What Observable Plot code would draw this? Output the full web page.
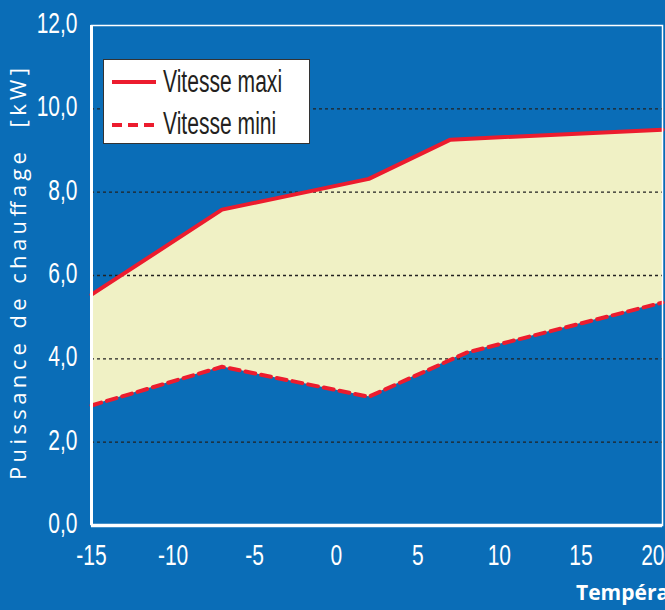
<!DOCTYPE html>
<html><head><meta charset="utf-8">
<script src="https://cdn.jsdelivr.net/npm/d3@7"></script>
<script src="https://cdn.jsdelivr.net/npm/@observablehq/plot@0.6"></script>
<style>
html,body{margin:0;padding:0;background:#0a6db7;overflow:hidden;width:665px;height:610px}
#chart svg{display:block}
</style></head><body><div id="chart"></div>
<script>
const maxTemps = [-15, -7, 2, 7, 20];
const maxPower = [5.54, 7.58, 8.32, 9.26, 9.50];
const minTemps = [-15, -7, 2, 8, 20];
const minPower = [2.88, 3.81, 3.09, 4.15, 5.35];
const yTicks = [0, 2, 4, 6, 8, 10, 12];
const gridTicks = [2, 4, 6, 8, 10];
const xTicks = [-15, -10, -5, 0, 5, 10, 15, 20];
const seriesLabels = ["Vitesse maxi", "Vitesse mini"];
const yTitle = "Puissance de chauffage  [kW]";
const xTitle = "Température extérieure [°C]";

const BLUE = "#0a6db7", YELLOW = "#f0f1c5", RED = "#ec1c2e";
const maxData = maxTemps.map((t, i) => ({t, p: maxPower[i]}));
const minData = minTemps.map((t, i) => ({t, p: minPower[i]}));

const plot = Plot.plot({
  width: 665, height: 610,
  marginLeft: 91, marginRight: 3, marginTop: 25, marginBottom: 85,
  style: {background: BLUE, fontFamily: "'Liberation Sans', Arial, sans-serif", color: "white"},
  x: {domain: [-15, 20]},
  y: {domain: [0, 12]},
  marks: [
    Plot.areaY(maxData, {x: "t", y: "p", fill: YELLOW}),
    Plot.areaY(minData, {x: "t", y: "p", fill: BLUE}),
    Plot.ruleY(gridTicks, {stroke: "#222", strokeWidth: 1.4, strokeDasharray: "3,3"}),
    Plot.line(maxData, {x: "t", y: "p", stroke: RED, strokeWidth: 4}),
    Plot.line(minData, {x: "t", y: "p", stroke: RED, strokeWidth: 4, strokeDasharray: "10,6"}),
    Plot.frame({stroke: "white", strokeWidth: 1.5}),
    Plot.ruleX([-15], {stroke: "white", strokeWidth: 3}),
    Plot.ruleY([0], {stroke: "white", strokeWidth: 3.5}),
    Plot.axisY(yTicks, {tickSize: 0, tickPadding: 14, fontSize: 30, fill: "white",
      tickFormat: d => d.toFixed(1).replace(".", ","), label: null, dy: -2}),
    Plot.axisX(xTicks, {tickSize: 0, tickPadding: 18, fontSize: 30, fill: "white",
      tickFormat: d => String(d), label: null})
  ]
});
document.getElementById("chart").appendChild(plot);

const svg = d3.select(plot);
// condense tick labels horizontally
svg.selectAll("g[aria-label='y-axis tick label'] text, g[aria-label='x-axis tick label'] text").each(function() {
  const t = this.getAttribute("transform") || "";
  this.setAttribute("transform", t + " scale(0.7,1)");
});
// last x label pushed inside like reference
const xl = svg.selectAll("g[aria-label='x-axis tick label'] text").nodes();
if (xl.length) {
  const last = xl[xl.length - 1];
  const m = /translate\(([^,]+),([^)]+)\)/.exec(last.getAttribute("transform"));
  if (m) {
    last.setAttribute("transform", `translate(664,${m[2]}) scale(0.7,1)`);
    last.setAttribute("text-anchor", "end");
  }
}

// legend
const lg = svg.append("g").attr("text-anchor", "start");
lg.append("rect").attr("x", 103.5).attr("y", 59.5).attr("width", 206).attr("height", 84)
  .attr("fill", "white").attr("stroke", "#333").attr("stroke-width", 1);
const rows = [{y: 82, ty: 91.5, dash: null}, {y: 125, ty: 134, dash: "10,6"}];
rows.forEach((r, i) => {
  const l = lg.append("line").attr("x1", 112).attr("x2", 156).attr("y1", r.y).attr("y2", r.y)
    .attr("stroke", RED).attr("stroke-width", 4);
  if (r.dash) l.attr("stroke-dasharray", r.dash);
  lg.append("text").attr("transform", `translate(163,${r.ty}) scale(0.68,1)`)
    .attr("text-anchor", "start")
    .attr("font-family", "'Liberation Sans', Arial, sans-serif").attr("font-size", 31)
    .attr("fill", "#231f20").text(seriesLabels[i]);
});

// axis titles
svg.append("text").attr("transform", "translate(25.5,274) rotate(-90)")
  .attr("text-anchor", "middle").attr("font-family", "'Open Sans', sans-serif")
  .attr("font-size", 22).attr("fill", "white")
  .attr("textLength", 412).attr("lengthAdjust", "spacing").text(yTitle);
svg.append("text").attr("x", 576).attr("y", 600).attr("text-anchor", "start")
  .attr("font-family", "'Open Sans', sans-serif").attr("font-weight", 700)
  .attr("font-size", 21).attr("fill", "white").text(xTitle);
</script></body></html>
